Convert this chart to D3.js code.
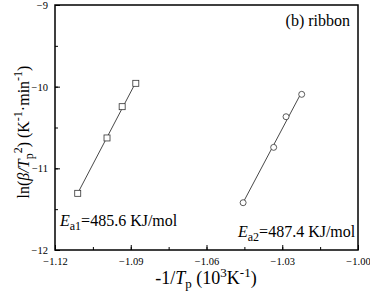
<!DOCTYPE html>
<html>
<head>
<meta charset="utf-8">
<script src="https://cdn.jsdelivr.net/npm/d3@7"></script>
<style>
body { margin: 0; background: #fff; }
text { font-family: "Liberation Serif", "Times New Roman", serif; fill: #000; }
</style>
</head>
<body>
<script>
var w = 370;
var h = 298;

// data
var s1x = [-1.1110, -1.0994, -1.0934, -1.0880];
var s1y = [-11.306, -10.628, -10.245, -9.959];
var s2x = [-1.0455, -1.0334, -1.0285, -1.0223];
var s2y = [-11.421, -10.743, -10.368, -10.094];
var xTicks = [-1.12, -1.09, -1.06, -1.03, -1.00];
var yTicks = [-12, -11, -10, -9];
var ea1 = "485.6 KJ/mol";
var ea2 = "487.4 KJ/mol";

var padL = 55, padR = 358, padT = 5, padB = 250;

var svg = d3.select("body").append("svg")
            .attr("width", w)
            .attr("height", h);

var xScale = d3.scaleLinear().domain([-1.12, -1.00]).range([padL, padR]);
var yScale = d3.scaleLinear().domain([-12, -9]).range([padB, padT]);

// minor ticks halfway between the majors
var xMinor = d3.range(-1.12, -0.999, 0.015);
var yMinor = d3.range(-12, -8.99, 0.5);

var xAxis = d3.axisBottom(xScale).tickValues(xTicks).tickSize(-5).tickPadding(8)
              .tickFormat(d3.format(".2f"));
var yAxis = d3.axisLeft(yScale).tickValues(yTicks).tickSize(-5).tickPadding(7)
              .tickFormat(d3.format("d"));

svg.append("g")
   .attr("transform", "translate(0," + padB + ")")
   .call(d3.axisBottom(xScale).tickValues(xMinor).tickSize(-3).tickFormat(""))
   .call(function (g) { g.select(".domain").remove(); });
svg.append("g")
   .attr("transform", "translate(" + padL + ",0)")
   .call(d3.axisLeft(yScale).tickValues(yMinor).tickSize(-3).tickFormat(""))
   .call(function (g) { g.select(".domain").remove(); });

var gx = svg.append("g")
   .attr("transform", "translate(0," + padB + ")")
   .call(xAxis);
var gy = svg.append("g")
   .attr("transform", "translate(" + padL + ",0)")
   .call(yAxis);

[gx, gy].forEach(function (g) {
    g.select(".domain").remove();
    g.selectAll("text").style("font-size", "10.5px").style("font-family", "Liberation Serif");
});
svg.selectAll(".tick line").attr("stroke", "#000").attr("stroke-width", 1);

// frame
svg.append("rect")
   .attr("x", padL).attr("y", padT)
   .attr("width", padR - padL).attr("height", padB - padT)
   .attr("fill", "none").attr("stroke", "#000").attr("stroke-width", 1.5);

// least squares line through each series
function fit(xs, ys) {
    var mx = d3.mean(xs), my = d3.mean(ys);
    var num = d3.sum(xs, function (x, i) { return (x - mx) * (ys[i] - my); });
    var den = d3.sum(xs, function (x) { return (x - mx) * (x - mx); });
    var b = num / den;
    return function (x) { return my + b * (x - mx); };
}

function drawSeries(xs, ys, shape) {
    var f = fit(xs, ys);
    var x0 = d3.min(xs), x1 = d3.max(xs);
    svg.append("line")
       .attr("x1", xScale(x0)).attr("y1", yScale(f(x0)))
       .attr("x2", xScale(x1)).attr("y2", yScale(f(x1)))
       .attr("stroke", "#333").attr("stroke-width", 0.9);
    var pts = xs.map(function (x, i) { return [x, ys[i]]; });
    if (shape === "square") {
        svg.selectAll(null).data(pts).enter().append("rect")
           .attr("x", function (d) { return xScale(d[0]) - 3; })
           .attr("y", function (d) { return yScale(d[1]) - 3; })
           .attr("width", 6).attr("height", 6)
           .attr("fill", "#fff").attr("stroke", "#333").attr("stroke-width", 0.8);
    } else {
        svg.selectAll(null).data(pts).enter().append("circle")
           .attr("cx", function (d) { return xScale(d[0]); })
           .attr("cy", function (d) { return yScale(d[1]); })
           .attr("r", 3)
           .attr("fill", "#fff").attr("stroke", "#333").attr("stroke-width", 0.8);
    }
}

drawSeries(s1x, s1y, "square");
drawSeries(s2x, s2y, "circle");

// panel label
svg.append("text")
   .attr("x", 350).attr("y", 26)
   .attr("text-anchor", "end")
   .style("font-size", "16px")
   .text("(b) ribbon");

// activation energies
function energy(x, y, sub, val) {
    var t = svg.append("text").attr("x", x).attr("y", y).style("font-size", "16px");
    t.append("tspan").style("font-style", "italic").text("E");
    t.append("tspan").attr("dy", 4).style("font-size", "12px").text(sub);
    t.append("tspan").attr("dy", -4).text("=" + val);
}
energy(60, 226, "a1", ea1);
energy(238, 237, "a2", ea2);

// x axis title
var xt = svg.append("text")
   .attr("x", 206).attr("y", 284)
   .attr("text-anchor", "middle")
   .style("font-size", "18px");
xt.append("tspan").text("-1/");
xt.append("tspan").style("font-style", "italic").text("T");
xt.append("tspan").attr("dy", 4).style("font-size", "13px").text("p");
xt.append("tspan").attr("dy", -4).text(" (10");
xt.append("tspan").attr("dy", -7).style("font-size", "13px").text("3");
xt.append("tspan").attr("dy", 7).text("K");
xt.append("tspan").attr("dy", -7).style("font-size", "13px").text("-1");
xt.append("tspan").attr("dy", 7).text(")");

// y axis title
var yt = svg.append("text")
   .attr("transform", "translate(29,132) rotate(-90)")
   .attr("text-anchor", "middle")
   .style("font-size", "16px");
yt.append("tspan").text("ln(");
yt.append("tspan").style("font-style", "italic").text("β/T");
yt.append("tspan").attr("dy", 4).style("font-size", "12px").text("p");
yt.append("tspan").attr("dy", -11).style("font-size", "12px").text("2");
yt.append("tspan").attr("dy", 7).text(") (K");
yt.append("tspan").attr("dy", -7).style("font-size", "12px").text("-1");
yt.append("tspan").attr("dy", 7).text("·min");
yt.append("tspan").attr("dy", -7).style("font-size", "12px").text("-1");
yt.append("tspan").attr("dy", 7).text(")");
</script>
</body>
</html>
